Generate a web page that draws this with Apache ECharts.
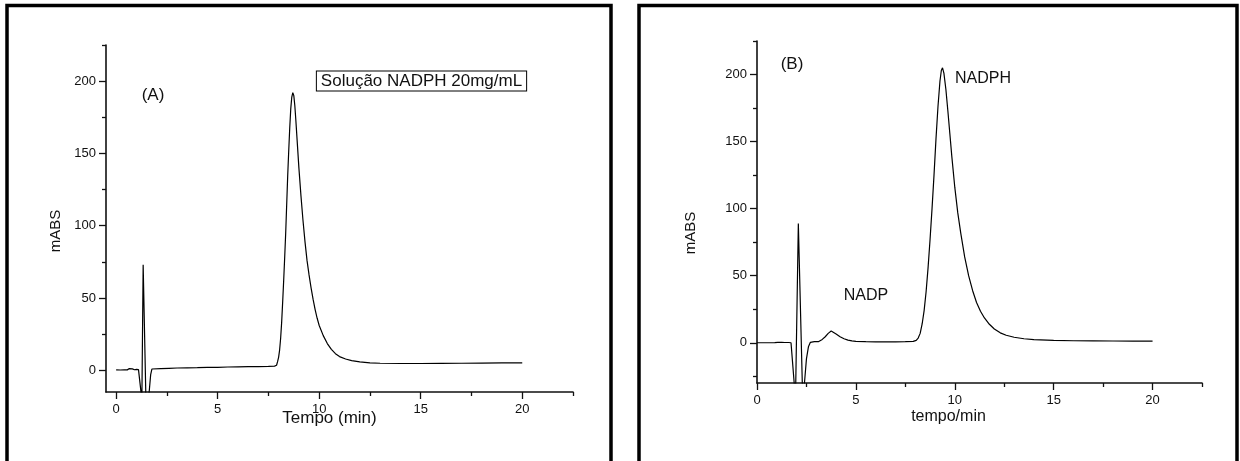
<!DOCTYPE html>
<html><head><meta charset="utf-8">
<script src="https://cdn.jsdelivr.net/npm/echarts@6/dist/echarts.min.js"></script>
<style>html,body{margin:0;padding:0;background:#fff}#c{width:1240px;height:461px}</style>
</head><body><div id="c"></div>
<script>
// ---- Data ----
// Panel A: Solução NADPH 20mg/mL
const timeA = [0.0,0.2,0.4,0.55,0.65,0.72,0.8,0.9,1.0,1.1,1.15,1.2,1.23,1.25,1.27,1.33,1.46,1.52,1.62,1.7,1.76,1.8,2.2,2.6,3.0,3.5,4.0,4.5,5.0,5.5,6.0,6.5,7.0,7.5,7.8,7.9,7.95,8.0,8.05,8.1,8.15,8.2,8.25,8.3,8.35,8.4,8.45,8.5,8.55,8.6,8.65,8.7,8.75,8.8,8.85,8.9,9.0,9.1,9.2,9.3,9.4,9.5,9.6,9.7,9.8,9.9,10.0,10.2,10.4,10.6,10.8,11.0,11.3,11.6,12.0,12.5,13.0,14.0,15.0,16.0,17.0,18.0,19.0,20.0];
const absA  = [0.3,0.2,0.4,0.3,1.2,0.6,1.0,0.4,0.6,0.5,0.4,-12,-16,-30,-16,73,-16,-30,-16,-3,0.9,1.1,1.2,1.4,1.6,1.7,1.8,2.0,2.1,2.3,2.4,2.5,2.6,2.7,2.9,3.5,6,9,14,22,33,47,62,78,95,115,135,152,168,181,189,192,190,183,173,162,140,121,104,89,76,66,57,49,42,36,31,24,18.5,14.5,11.5,9.5,7.8,6.7,5.8,5.2,4.9,4.7,4.7,4.8,4.9,5.0,5.1,5.2];
// Panel B: NADP / NADPH
const timeB = [0.0,0.5,0.9,1.05,1.15,1.25,1.4,1.6,1.72,1.8,1.88,1.92,1.96,2.09,2.29,2.34,2.4,2.5,2.6,2.7,2.8,2.9,3.0,3.1,3.2,3.3,3.45,3.6,3.75,3.85,4.0,4.2,4.4,4.6,4.8,5.0,5.5,6.0,6.5,7.0,7.5,7.9,8.05,8.15,8.25,8.35,8.45,8.55,8.65,8.75,8.85,8.95,9.05,9.15,9.25,9.32,9.38,9.45,9.55,9.65,9.75,9.85,10.0,10.15,10.3,10.5,10.7,10.9,11.1,11.3,11.5,11.75,12.0,12.3,12.6,13.0,13.5,14.0,15.0,16.0,17.0,18.0,19.0,20.0];
const absB  = [0,0,0.1,0.3,1.0,0.4,0.2,0.2,0,-15,-30,-45,-30,89,-30,-45,-30,-12,-3,0.3,0.8,0.8,0.6,0.8,1.5,2.5,4.5,7.0,8.7,8.2,6.5,4.5,3.0,2.0,1.4,1.1,0.8,0.7,0.7,0.7,0.8,1.0,1.8,3.5,7,14,24,38,56,77,100,125,152,176,195,203,205,201,189,173,156,139,116,97,82,64,50,39,30,23.5,18.5,13.8,10.3,7.4,5.6,4.1,3.0,2.4,1.8,1.5,1.4,1.3,1.2,1.2];
// Tick values
const xMajorTicks = [0,5,10,15,20];
const xMinorTicks = [2.5,7.5,12.5,17.5,22.5];
const yMajorTicks = [0,50,100,150,200];
const yMinorTicksA = [25,75,125,175,225];
const yMinorTicksB = [-25,25,75,125,175,225];
// Labels
const xNameA = 'Tempo (min)';
const xNameB = 'tempo/min';
const yName = 'mABS';

const FONT = 'Liberation Sans, Arial, Helvetica, sans-serif';
const INK = '#111';

function pairs(t, v){ return t.map((x,i)=>[x, v[i]]); }

function xMajor(grid, min, max, name, gap, pad, nsize){
  return {type:'value', gridIndex:grid, min:min, max:max, position:'bottom',
    axisLine:{show:true, onZero:false, lineStyle:{color:INK, width:1.6}},
    axisTick:{show:true, inside:false, length:7, customValues:xMajorTicks, lineStyle:{color:INK, width:1.3}},
    axisLabel:{show:true, customValues:xMajorTicks, margin:11, color:INK, fontSize:13, fontFamily:FONT},
    splitLine:{show:false},
    name:name, nameLocation:'middle', nameGap:gap, nameMoveOverlap:false,
    nameTextStyle:{color:INK, fontSize:nsize, fontFamily:FONT, padding:pad}};
}
function xMinor(grid, min, max){
  return {type:'value', gridIndex:grid, min:min, max:max, position:'bottom',
    axisLine:{show:false, onZero:false},
    axisTick:{show:true, inside:false, length:4, customValues:xMinorTicks, lineStyle:{color:INK, width:1.3}},
    axisLabel:{show:false}, splitLine:{show:false}};
}
function yMajor(grid, min, max, gap, pad){
  return {type:'value', gridIndex:grid, min:min, max:max, position:'left',
    axisLine:{show:true, onZero:false, lineStyle:{color:INK, width:1.6}},
    axisTick:{show:true, inside:false, length:7, customValues:yMajorTicks, lineStyle:{color:INK, width:1.3}},
    axisLabel:{show:true, customValues:yMajorTicks, margin:10, color:INK, fontSize:13, fontFamily:FONT},
    splitLine:{show:false},
    name:yName, nameLocation:'middle', nameGap:gap, nameMoveOverlap:false,
    nameTextStyle:{color:INK, fontSize:15, fontFamily:FONT, padding:pad}};
}
function yMinor(grid, min, max, ticks){
  return {type:'value', gridIndex:grid, min:min, max:max, position:'left',
    axisLine:{show:false, onZero:false},
    axisTick:{show:true, inside:false, length:4, customValues:ticks, lineStyle:{color:INK, width:1.3}},
    axisLabel:{show:false}, splitLine:{show:false}};
}

const chart = echarts.init(document.getElementById('c'), null, {renderer:'canvas'});
chart.setOption({
  animation:false,
  backgroundColor:'#fff',
  grid:[
    {left:106, top:45, width:467, height:347, containLabel:false, outerBoundsMode:'none'},
    {left:757, top:41, width:445, height:342, containLabel:false, outerBoundsMode:'none'}
  ],
  xAxis:[
    xMajor(0, -0.5, 22.5, xNameA, 18, [0,20,0,0], 17),
    xMinor(0, -0.5, 22.5),
    xMajor(1, 0, 22.5, xNameB, 26, [0,62,0,0], 16),
    xMinor(1, 0, 22.5)
  ],
  yAxis:[
    yMajor(0, -15, 225, 43, [0,25,0,0]),
    yMinor(0, -15, 225, yMinorTicksA),
    yMajor(1, -30, 225, 59, [0,42,0,0]),
    yMinor(1, -30, 225, yMinorTicksB)
  ],
  series:[
    {type:'line', xAxisIndex:0, yAxisIndex:0, data:pairs(timeA, absA), showSymbol:false, clip:true,
     lineStyle:{color:'#000', width:1.2}},
    {type:'line', xAxisIndex:2, yAxisIndex:2, data:pairs(timeB, absB), showSymbol:false, clip:true,
     lineStyle:{color:'#000', width:1.2}}
  ],
  graphic:[
    {type:'rect', shape:{x:7, y:5.5, width:604, height:470}, style:{fill:'none', stroke:'#000', lineWidth:3.5}, silent:true},
    {type:'rect', shape:{x:639, y:5.5, width:598, height:470}, style:{fill:'none', stroke:'#000', lineWidth:3.5}, silent:true},
    {type:'text', x:153, y:95, style:{text:'(A)', fill:INK, font:'17px '+FONT, align:'center', verticalAlign:'middle'}},
    {type:'text', x:421.5, y:81, style:{text:'Solução NADPH 20mg/mL', fill:INK, font:'17px '+FONT, align:'center', verticalAlign:'middle',
      padding:[1,4,1,4], borderColor:'#000', borderWidth:1, backgroundColor:'#fff'}},
    {type:'text', x:792, y:64, style:{text:'(B)', fill:INK, font:'17px '+FONT, align:'center', verticalAlign:'middle'}},
    {type:'text', x:983, y:79, style:{text:'NADPH', fill:INK, font:'16px '+FONT, align:'center', verticalAlign:'middle'}},
    {type:'text', x:866, y:296, style:{text:'NADP', fill:INK, font:'16px '+FONT, align:'center', verticalAlign:'middle'}}
  ]
});
</script>
</body></html>
